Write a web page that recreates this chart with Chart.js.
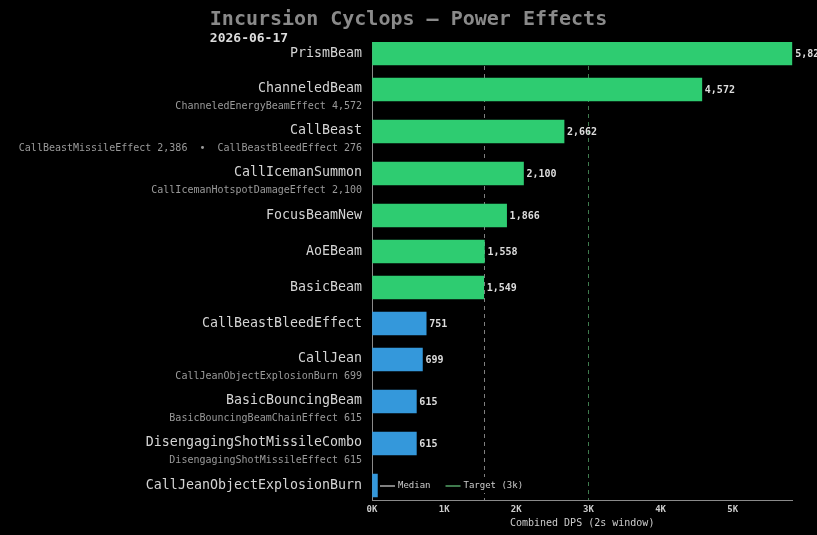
<!DOCTYPE html>
<html>
<head>
<meta charset="utf-8">
<script src="https://cdn.jsdelivr.net/npm/chart.js@4.4.1/dist/chart.umd.min.js"></script>
<style>
html,body{margin:0;padding:0;background:#000;}
#wrap{width:817px;height:535px;position:relative;}
</style>
</head>
<body>
<div id="wrap"><canvas id="c"></canvas></div>
<script>
const TITLE = 'Incursion Cyclops — Power Effects';
const SUBTITLE = '2026-06-17';
const categories = ['PrismBeam','ChanneledBeam','CallBeast','CallIcemanSummon','FocusBeamNew','AoEBeam','BasicBeam','CallBeastBleedEffect','CallJean','BasicBouncingBeam','DisengagingShotMissileCombo','CallJeanObjectExplosionBurn'];
const values = [5826,4572,2662,2100,1866,1558,1549,751,699,615,615,75];
const subLabels = ['', 'ChanneledEnergyBeamEffect 4,572', 'CallBeastMissileEffect 2,386  •  CallBeastBleedEffect 276', 'CallIcemanHotspotDamageEffect 2,100', '', '', '', '', 'CallJeanObjectExplosionBurn 699', 'BasicBouncingBeamChainEffect 615', 'DisengagingShotMissileEffect 615', ''];
const xTicks = [0, 1000, 2000, 3000, 4000, 5000];
const TARGET = 3000;
const HIGH_TIER = 1000;
const X_TITLE = 'Combined DPS (2s window)';

const MONO = '"DejaVu Sans Mono", monospace';
const GREEN = '#2ecc71', BLUE = '#3498db';

// row layout: rows with a sub-label get extra room
const ROW_GAP = 36, SUB_EXTRA = 6;
const positions = [];
{ let p = 0; categories.forEach((c, i) => { positions.push(p); p += ROW_GAP + (subLabels[i] ? SUB_EXTRA : 0); }); }

const sorted = [...values].sort((a,b)=>a-b);
const mid = Math.floor(sorted.length/2);
const MEDIAN = sorted.length % 2 ? sorted[mid] : (sorted[mid-1] + sorted[mid]) / 2;

const fmt = v => v.toLocaleString('en-US');

const custom = {
  id: 'custom',
  beforeDatasetsDraw(chart) {
    const {ctx, chartArea: a, scales: {x}} = chart;
    ctx.save();
    ctx.lineWidth = 1;
    ctx.setLineDash([4,4]);
    [[MEDIAN,'#808080'],[TARGET,'#3f7a4d']].forEach(([v,col]) => {
      const px = Math.round(x.getPixelForValue(v)) + 0.5;
      ctx.strokeStyle = col;
      ctx.beginPath(); ctx.moveTo(px, a.top); ctx.lineTo(px, a.bottom); ctx.stroke();
    });
    ctx.restore();
  },
  afterDatasetsDraw(chart) {
    const {ctx, chartArea: a, scales: {x, y}} = chart;
    ctx.save();
    // value labels
    ctx.font = 'bold 10px ' + MONO;
    ctx.fillStyle = '#dddddd';
    ctx.textAlign = 'left'; ctx.textBaseline = 'middle';
    values.forEach((v, i) => {
      ctx.fillText(fmt(v), x.getPixelForValue(v) + 3, y.getPixelForValue(positions[i]) + 0.5);
    });
    // category labels
    ctx.textAlign = 'right';
    categories.forEach((c, i) => {
      const py = y.getPixelForValue(positions[i]);
      ctx.font = '13.3px ' + MONO;
      ctx.fillStyle = '#d4d4d4';
      ctx.fillText(c, a.left - 10, py - (subLabels[i] ? 1 : 0));
      if (subLabels[i]) {
        ctx.font = '10px ' + MONO;
        ctx.fillStyle = '#9a9a9a';
        ctx.fillText(subLabels[i], a.left - 10, py + 17);
      }
    });
    // legend
    const lx = a.left + 7, ly = a.bottom - 15;
    ctx.fillStyle = '#000';
    ctx.fillRect(lx, ly - 8, 150, 16);
    ctx.font = '9px ' + MONO;
    ctx.textAlign = 'left';
    const items = [['Median','#808080'],['Target (3k)','#3f7a4d']];
    let cx = lx + 1;
    items.forEach(([t,col]) => {
      ctx.fillStyle = col;
      ctx.fillRect(cx, ly, 15, 2);
      ctx.fillStyle = '#cccccc';
      ctx.fillText(t, cx + 18, ly + 0.5);
      cx += 18 + ctx.measureText(t).width + 15;
    });
    // title
    ctx.font = 'bold 20px ' + MONO;
    ctx.fillStyle = '#8a8a8a';
    ctx.textAlign = 'center';
    ctx.fillText(TITLE, chart.width / 2, 20);
    const tl = chart.width / 2 - ctx.measureText(TITLE).width / 2;
    ctx.font = 'bold 13px ' + MONO;
    ctx.fillStyle = '#dddddd';
    ctx.textAlign = 'left';
    ctx.fillText(SUBTITLE, tl, 38.5);
    ctx.restore();
  }
};

new Chart(document.getElementById('c'), {
  type: 'bar',
  data: {
    datasets: [{
      data: values.map((v, i) => ({x: v, y: positions[i]})),
      backgroundColor: values.map(v => v >= HIGH_TIER ? GREEN : BLUE),
      barThickness: 23,
      borderWidth: 0
    }]
  },
  options: {
    indexAxis: 'y',
    responsive: true,
    maintainAspectRatio: false,
    animation: false,
    layout: { padding: { left: 372, right: 24.7, top: 42, bottom: 0 } },
    plugins: { legend: { display: false }, title: { display: false }, tooltip: { enabled: false } },
    scales: {
      x: {
        type: 'linear',
        min: 0,
        max: Math.max(...values),
        grid: { color: 'transparent', drawTicks: false },
        border: { display: true, color: '#8a8a8a', width: 1 },
        ticks: {
          padding: 4,
          color: '#cccccc', font: { family: MONO, size: 9, weight: 'bold' },
          maxRotation: 0, autoSkip: false,
          callback: v => (v / 1000) + 'K'
        },
        afterBuildTicks: s => { s.ticks = xTicks.map(v => ({ value: v })); },
        title: { display: true, text: X_TITLE, color: '#cccccc', font: { family: MONO, size: 10 }, padding: { top: 2, bottom: 6 } },
        afterFit: s => { s.height = 35; }
      },
      y: {
        type: 'linear',
        reverse: true,
        offset: false,
        min: positions[0] - 11.5,
        max: positions[positions.length - 1] + 14.5,
        grid: { color: 'transparent', drawTicks: false, offset: false },
        border: { display: true, color: '#8a8a8a', width: 1 },
        ticks: { display: false },
        afterFit: s => { s.width = 0; }
      }
    }
  },
  plugins: [custom]
});
</script>
</body>
</html>
